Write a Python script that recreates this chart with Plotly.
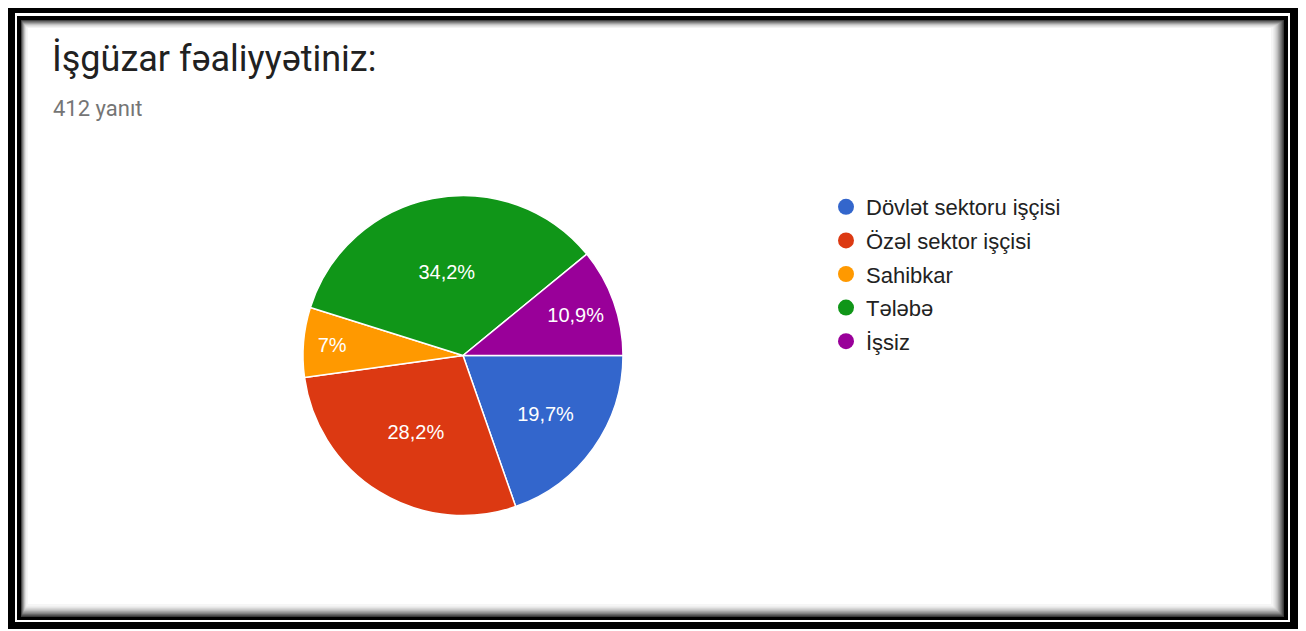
import plotly.graph_objects as go

# the page body adds an 8px offset, so the figure is drawn 8px smaller
OFF = 8
W, H = 1306 - OFF, 631 - OFF

# survey data (412 answers)
categories = ["Dövlət sektoru işçisi", "Özəl sektor işçisi", "Sahibkar", "Tələbə", "İşsiz"]
counts = [81, 116, 29, 141, 45]
colors = ["#3366cc", "#dc3912", "#ff9900", "#109618", "#990099"]
title_text = "İşgüzar fəaliyyətiniz:"
subtitle_text = "412 yanıt"


def fx(p):
    return (p - OFF) / W


def fy(p):
    return 1 - (p - OFF) / H


def px_rect(x0, y0, x1, y1, color):
    # rectangle given in screen pixels (top-left origin) -> paper coords
    return dict(type="rect", xref="paper", yref="paper",
                x0=fx(x0), x1=fx(x1), y0=fy(y1), y1=fy(y0),
                fillcolor=color, line_width=0, layer="below")


fig = go.Figure()

fig.add_trace(go.Pie(
    labels=categories,
    values=counts,
    sort=False,
    direction="clockwise",
    rotation=90,
    marker=dict(colors=colors, line=dict(color="white", width=1.5)),
    texttemplate="%{percent:.1~%}",
    textposition="inside",
    insidetextorientation="horizontal",
    textfont=dict(family="Liberation Sans, Arial", size=20, color="white"),
    domain=dict(x=[fx(303), fx(623)], y=[fy(516), fy(195)]),
    showlegend=False,
    hoverinfo="label+percent",
))

# legend entries with round markers
for i, (name, col) in enumerate(zip(categories, colors)):
    fig.add_trace(go.Scatter(
        x=[None], y=[None], mode="markers", name=name,
        marker=dict(color=col, size=16, symbol="circle"),
        legendgroup=str(i), showlegend=True,
    ))

# framed border with inner shadow
shapes = [
    px_rect(4, 3, 1302, 629, "black"),
    px_rect(15, 13, 1290, 622, "white"),
    px_rect(17, 16, 1288, 620, "black"),
]
greys = ["#3a3a3a", "#5a5a5a", "#777777", "#909090", "#a8a8a8",
         "#bdbdbd", "#d0d0d0", "#e0e0e0", "#ececec", "#f6f6f6"]
for i, g in enumerate(greys):
    shapes.append(px_rect(21 + i * 0.6, 20 + i * 0.8, 1284 - i * 1.2, 617 - i * 1.2, g))
shapes.append(px_rect(28, 28, 1271, 604, "white"))

fig.update_layout(
    width=W, height=H,
    margin=dict(l=0, r=0, t=0, b=0),
    paper_bgcolor="white",
    plot_bgcolor="rgba(0,0,0,0)",
    separators=",.",
    xaxis=dict(visible=False),
    yaxis=dict(visible=False),
    shapes=shapes,
    legend=dict(
        x=fx(826), y=fy(186), xanchor="left", yanchor="top",
        font=dict(family="Liberation Sans, Arial", size=22, color="#222222"),
        tracegroupgap=2, itemclick=False, bgcolor="rgba(0,0,0,0)",
    ),
    annotations=[
        dict(text=title_text, xref="paper", yref="paper",
             x=fx(50), y=fy(59), xanchor="left", yanchor="middle",
             showarrow=False,
             font=dict(family="Roboto", size=36, color="#212121")),
        dict(text=subtitle_text, xref="paper", yref="paper",
             x=fx(51), y=fy(108), xanchor="left", yanchor="middle",
             showarrow=False,
             font=dict(family="Roboto", size=22, color="#757575")),
    ],
)

fig.write_html("out.html")
